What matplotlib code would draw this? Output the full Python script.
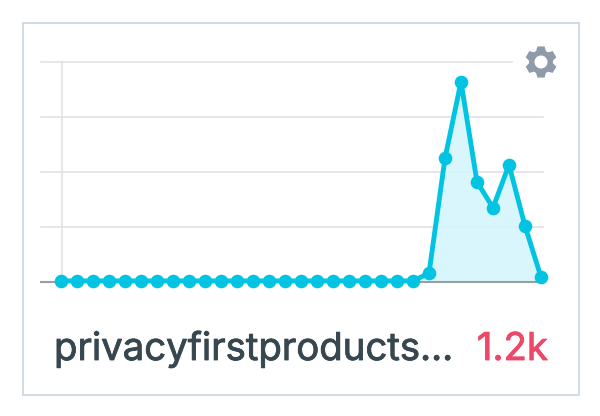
import numpy as np
import matplotlib
matplotlib.use("Agg")
import matplotlib.pyplot as plt
import matplotlib.patheffects as pe
from matplotlib.patches import Rectangle, PathPatch
from matplotlib.path import Path

W, H = 600, 416

values = [2] * 23 + [16, 225, 364, 182, 135, 213, 102, 9]
grid_ticks = [100, 200, 300, 400]
title = "privacyfirstproducts\u2026"
total = "1.2k"

CYAN = "#00c4e2"
GRID = "#dfe1e5"


def px(x, y):
    # pixel position (top left origin) to figure fraction
    return x / W, 1 - y / H


def gear_path(cx, cy, r_out, r_in, r_hole, teeth=6):
    pts = []
    step = 2 * np.pi / teeth
    for i in range(teeth):
        a = i * step - np.pi / 2
        for da, r in [(-0.5, r_in), (-0.27, r_out), (0.27, r_out), (0.5, r_in)]:
            t = a + da * step * 0.8
            pts.append((cx + r * np.cos(t), cy - r * np.sin(t)))
    pts.append(pts[0])
    codes = [Path.MOVETO] + [Path.LINETO] * (len(pts) - 2) + [Path.CLOSEPOLY]
    t = np.linspace(0, 2 * np.pi, 40)
    hole = [(cx + r_hole * np.cos(a), cy + r_hole * np.sin(a)) for a in t]
    hole_codes = [Path.MOVETO] + [Path.LINETO] * 38 + [Path.CLOSEPOLY]
    verts = [px(*p) for p in pts + hole]
    return Path(verts, codes + hole_codes)


fig = plt.figure(figsize=(W / 100, H / 100), dpi=100, facecolor="white")

# card border, kept behind the axes
fig.add_artist(Rectangle(px(23, 395), 556 / W, 372 / H, transform=fig.transFigure,
                         facecolor="white", edgecolor="#ccd5de", linewidth=1.2, zorder=-1))

ax = fig.add_axes([61 / W, 1 - 282 / H, 480 / W, 220 / H])
ax.set_xlim(0, 30)
ax.set_ylim(0, 400)
ax.axis("off")

x = np.arange(len(values))
x_left = -20 / 16

for t in grid_ticks:
    # top line stops short of the gear
    x_end = 28.2 if t == 400 else 30.1
    ax.plot([x_left, x_end], [t, t], color=GRID, lw=1.2, clip_on=False, zorder=1)
ax.plot([1 / 16, 1 / 16], [0, 400], color=GRID, lw=1.2, clip_on=False, zorder=1)
ax.plot([x_left, 30], [0, 0], color="#9a9ea3", lw=1.5, clip_on=False, zorder=2)

ax.fill_between(x, values, 0, color="#d4f6fb", alpha=0.9, lw=0, zorder=1.5)
ax.plot(x, values, color=CYAN, lw=3.5, marker="o", ms=9.8, mec=CYAN, mew=0,
        clip_on=False, zorder=3)

fig.add_artist(PathPatch(gear_path(541, 62, 16, 12, 6.5), transform=fig.transFigure,
                         facecolor="#8f9bab", edgecolor="none"))

# reference type is a little heavier than the installed regular weight
fx, fy = px(54, 360)
t1 = fig.text(fx, fy, title, fontsize=27.6, family="Inter", color="#36474f", ha="left", va="baseline")
t1.set_path_effects([pe.withStroke(linewidth=0.6, foreground="#36474f")])
fx, fy = px(548, 360)
t2 = fig.text(fx, fy, total, fontsize=27.6, family="Inter", color="#ee4868", ha="right", va="baseline")
t2.set_path_effects([pe.withStroke(linewidth=0.6, foreground="#ee4868")])

fig.savefig("out.png", dpi=100)
